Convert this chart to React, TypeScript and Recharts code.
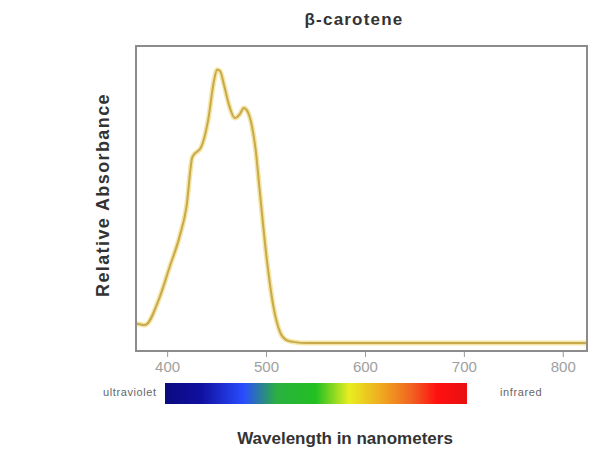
import { LineChart, Line, XAxis, YAxis } from "recharts"

// wavelength in nm
const wavelengths = [367, 377, 392, 402, 412, 419, 425, 434, 441, 447, 450, 453, 457, 462, 468, 473, 477, 481, 485, 489, 493, 500, 507, 514, 520, 527, 542, 600, 700, 825]
const absorbance = [0.094, 0.088, 0.179, 0.277, 0.375, 0.472, 0.635, 0.668, 0.756, 0.886, 0.919, 0.915, 0.87, 0.805, 0.762, 0.775, 0.795, 0.782, 0.739, 0.658, 0.528, 0.309, 0.147, 0.062, 0.039, 0.033, 0.029, 0.029, 0.029, 0.029]
const xTicks = [400, 500, 600, 700, 800]
const xDomain = [367, 825]

const W = 598
const H = 459
const PLOT = { left: 135, top: 45, width: 453, height: 307 }

const xPos = (w: number) => PLOT.left + ((w - xDomain[0]) / (xDomain[1] - xDomain[0])) * PLOT.width

const font = "'Liberation Sans', Arial, sans-serif"

export default function App() {
  const data = wavelengths.map((w, i) => ({ wl: w, abs: absorbance[i] }))
  const barLeft = xPos(397)
  const barRight = xPos(703)

  return (
    <div style={{ position: "absolute", left: 0, top: 0, width: W, height: H, background: "#fff", fontFamily: font }}>
      <LineChart width={W} height={H} data={data} margin={{ top: PLOT.top, right: W - PLOT.left - PLOT.width, left: 0, bottom: 0 }}>
        <XAxis
          dataKey="wl"
          type="number"
          domain={xDomain}
          ticks={xTicks}
          allowDataOverflow
          height={H - PLOT.top - PLOT.height}
          axisLine={false}
          tickLine={{ stroke: "#999" }}
          tickSize={5}
          tickMargin={4}
          tick={{ fill: "#a0a0a0", fontSize: 15, fontFamily: font }}
        />
        <YAxis type="number" domain={[0, 1]} width={PLOT.left} tick={false} axisLine={false} tickLine={false} />
        {/* soft halo under the trace, as in the scanned original */}
        <Line type="monotone" dataKey="abs" stroke="#f4e6a6" strokeWidth={5} dot={false} isAnimationActive={false} />
        <Line type="monotone" dataKey="abs" stroke="#c8a94c" strokeWidth={2} dot={false} isAnimationActive={false} />
      </LineChart>

      {/* plot frame */}
      <div style={{ position: "absolute", left: PLOT.left, top: PLOT.top, width: PLOT.width, height: PLOT.height, border: "2px solid #8c8c8c", boxSizing: "border-box", pointerEvents: "none" }} />

      <div style={{ position: "absolute", left: 254, top: 10, width: 200, textAlign: "center", fontSize: 17, letterSpacing: 1.2, fontWeight: "bold", color: "#333" }}>β-carotene</div>

      <div style={{ position: "absolute", left: 103, top: 195, transform: "translate(-50%, -50%) rotate(-90deg)", whiteSpace: "nowrap", fontSize: 18, letterSpacing: 1.4, fontWeight: "bold", color: "#333" }}>Relative Absorbance</div>

      {/* visible spectrum bar */}
      <div style={{ position: "absolute", left: barLeft, top: 383, width: barRight - barLeft, height: 21, background: "linear-gradient(to right, #0a0a80 0%, #1010a0 12%, #2a4cff 26%, #2ab040 37%, #22c022 50%, #e8ee20 61%, #f0a020 73%, #f06020 82%, #ff1010 90%, #e81010 100%)" }} />
      <div style={{ position: "absolute", left: 40, top: 386, width: barLeft - 48, textAlign: "right", fontSize: 11, letterSpacing: 0.6, color: "#666" }}>ultraviolet</div>
      <div style={{ position: "absolute", left: 500, top: 386, fontSize: 11, letterSpacing: 0.6, color: "#666" }}>infrared</div>

      <div style={{ position: "absolute", left: 195, top: 429, width: 300, textAlign: "center", fontSize: 17, fontWeight: "bold", color: "#333" }}>Wavelength in nanometers</div>
    </div>
  )
}
